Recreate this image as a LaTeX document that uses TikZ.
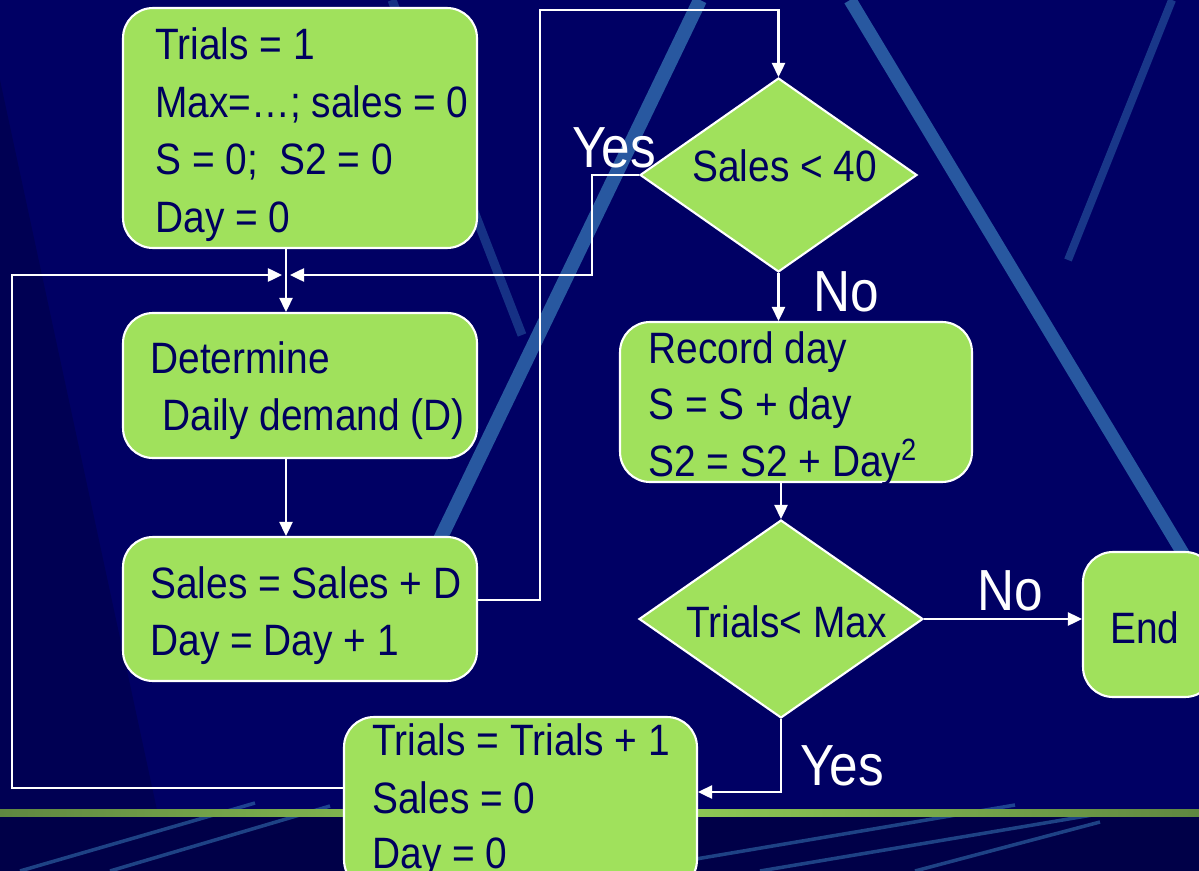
\documentclass[tikz,border=0pt]{standalone}
\usepackage{fontspec}
\setmainfont{Liberation Sans}[FakeStretch=0.885]
\usetikzlibrary{shapes.geometric,arrows.meta}
\definecolor{bg}{RGB}{0,0,100}
\definecolor{bgdark}{RGB}{0,0,72}
\definecolor{boxgreen}{RGB}{160,225,92}
\definecolor{ink}{RGB}{0,0,95}
\definecolor{streak}{RGB}{50,110,175}
\definecolor{lineedge}{RGB}{95,135,65}
\definecolor{linemid}{RGB}{150,212,88}
\begin{document}
\begin{tikzpicture}[x=0.02cm,y=-0.02cm,
  proc/.style={draw=white,line width=1.2pt,fill=boxgreen,rounded corners=0.6cm,inner sep=0pt},
  decision/.style={draw=white,line width=1.2pt,fill=boxgreen,diamond,inner sep=0pt},
  txt/.style={anchor=base west,inner sep=0pt,text=ink,font=\fontsize{25}{30}\selectfont},
  lbl/.style={anchor=base west,inner sep=0pt,text=white,font=\fontsize{33}{36}\selectfont},
  wire/.style={draw=white,line width=1.2pt},
  arr/.style={draw=white,line width=1.2pt,-{Triangle[length=8pt,width=7.5pt]}},
  band/.style={draw=streak,line cap=butt}]
\useasboundingbox (0,0) rectangle (1199,871);
\clip (0,0) rectangle (1199,871);
% background
\fill[bg] (0,0) rectangle (1199,810);
\fill[bgdark] (0,810) rectangle (1199,871);
\fill[bgdark,opacity=0.6] (0,80) -- (157,810) -- (0,810) -- cycle;
\draw[band,line width=0.28cm,opacity=0.8] (700,0) -- (430,560);
\draw[band,line width=0.26cm,opacity=0.8] (850,0) -- (1190,565);
\draw[band,line width=0.16cm,opacity=0.5] (1172,0) -- (1068,260);
\draw[band,line width=0.18cm,opacity=0.45] (392,0) -- (522,335);
\draw[band,line width=2pt,opacity=0.6] (20,871) -- (255,803);
\draw[band,line width=2pt,opacity=0.6] (110,871) -- (330,806);
\draw[band,line width=2pt,opacity=0.6] (690,860) -- (1015,805);
\draw[band,line width=2pt,opacity=0.6] (760,871) -- (1110,812);
\draw[band,line width=2pt,opacity=0.6] (915,871) -- (1100,822);
\shade[left color=lineedge,right color=lineedge,middle color=linemid] (0,809) rectangle (1199,816);

% nodes
\node[proc,minimum width=7.08cm,minimum height=4.8cm] (init) at (300,128) {};
\node[proc,minimum width=7.08cm,minimum height=2.9cm] (demand) at (300,385.5) {};
\node[proc,minimum width=7.08cm,minimum height=2.88cm] (sales) at (300,609) {};
\node[decision,minimum width=5.54cm,minimum height=3.88cm] (d1) at (778.5,175) {};
\node[proc,minimum width=7.04cm,minimum height=3.2cm] (record) at (796,402) {};
\node[decision,minimum width=5.68cm,minimum height=3.96cm] (d2) at (781,619) {};
\node[proc,minimum width=2.64cm,minimum height=2.9cm] (end) at (1149,624.5) {};
\node[proc,minimum width=7.06cm,minimum height=3.46cm] (next) at (520.5,803.5) {};

% texts
\node[txt] at (155,60) {Trials = 1};
\node[txt] at (155,118) {Max=…; sales = 0};
\node[txt] at (155,175) {S = 0;~ S2 = 0};
\node[txt] at (155,233) {Day = 0};
\node[txt] at (150,373) {Determine};
\node[txt] at (162,430) {Daily demand (D)};
\node[txt] at (150,598) {Sales = Sales + D};
\node[txt] at (150,655) {Day = Day + 1};
\node[txt] at (692,182) {Sales < 40};
\node[txt] at (648,363) {Record day};
\node[txt] at (648,419) {S = S + day};
\node[txt] at (648,476) {S2 = S2 + Day\textsuperscript{2}};
\node[txt] at (686,637) {Trials< Max};
\node[txt] at (1110,643) {End};
\node[txt] at (372,755) {Trials = Trials + 1};
\node[txt] at (372,813) {Sales = 0};
\node[txt] at (372,868) {Day = 0};

% labels
\node[lbl] at (572,168) {Yes};
\node[lbl] at (813,312) {No};
\node[lbl] at (977,610) {No};
\node[lbl] at (800,785) {Yes};

% connector helper points
\coordinate (j) at (286,275);
\coordinate (jl) at (282,275);
\coordinate (jr) at (290,275);
\coordinate (loopL) at (12,275);
\coordinate (up) at (540,10);
\coordinate (yesx) at (592,180);
\coordinate (bot) at (780,792);

% connectors
\draw[arr] (init.south -| j) -- (demand.north -| j);
\draw[arr] (demand.south -| j) -- (sales.north -| j);
\draw[arr] (sales.east |- 0,600) -- (up |- 0,600) -- (up) -- (d1.north |- up) -- (d1.north);
\draw[arr] (d1.west) -- (yesx |- d1.west) -- (yesx |- jr) -- (jr);
\draw[arr] (d1.south) -- (record.north -| d1.south);
\draw[arr] (record.south -| d2.north) -- (d2.north);
\draw[arr] (d2.east) -- (end.west |- d2.east);
\draw[arr] (d2.south) -- (d2.south |- bot) -- (next.east |- bot);
\draw[arr] (next.west |- 0,788) -- (loopL |- 0,788) -- (loopL) -- (jl);
\end{tikzpicture}
\end{document}
